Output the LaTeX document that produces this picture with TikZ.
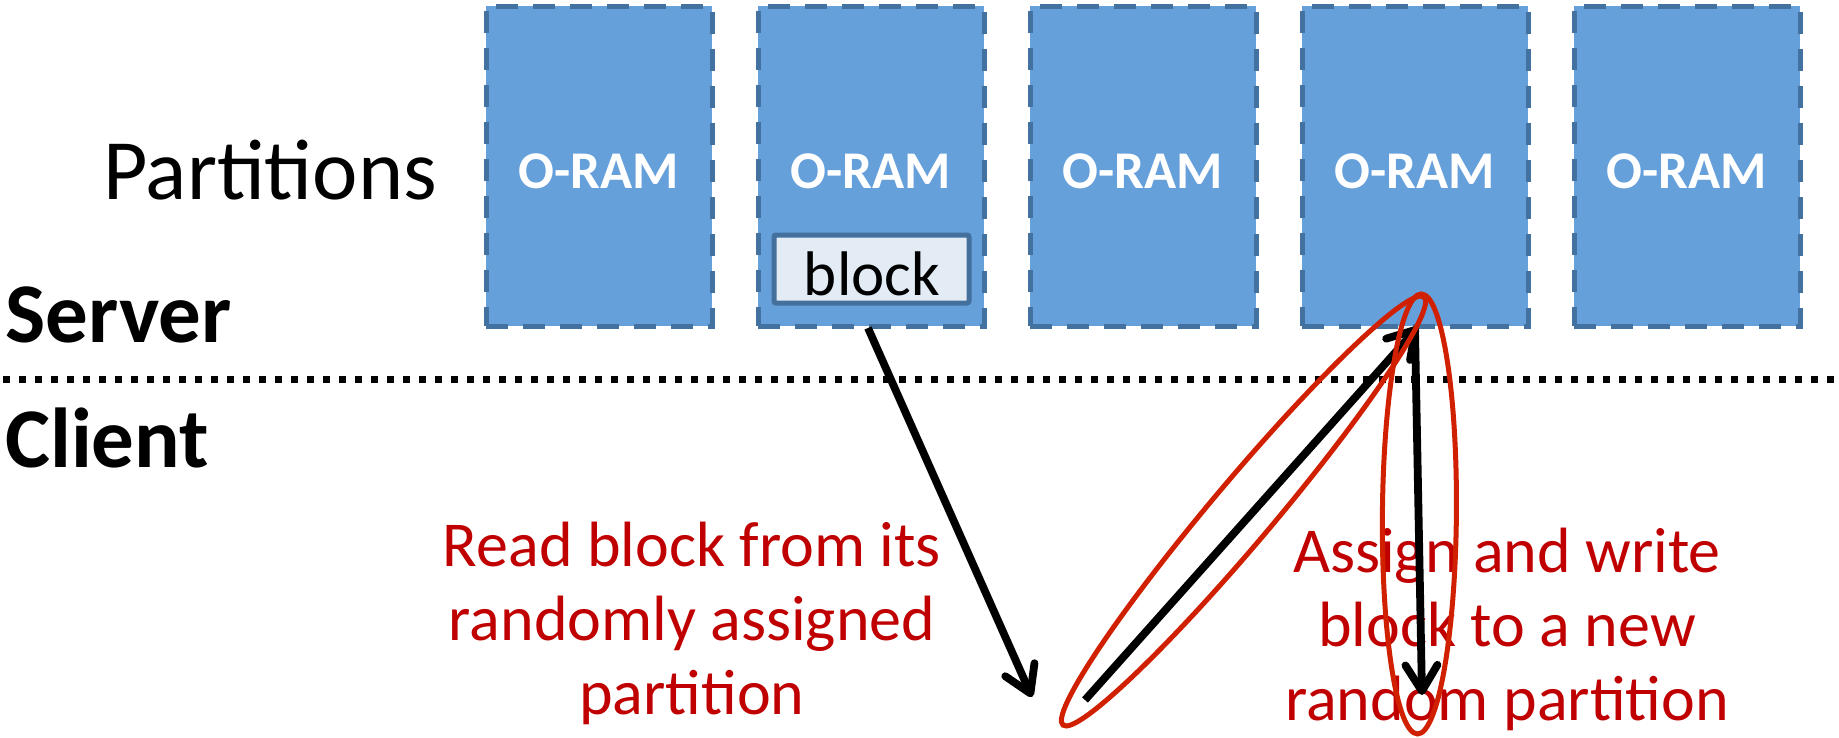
\documentclass[tikz,border=0pt]{standalone}
\usepackage{fontspec}
\setmainfont{Carlito}
\usetikzlibrary{arrows.meta}
\definecolor{oramfill}{RGB}{101,160,219}
\definecolor{oramedge}{RGB}{68,114,160}
\definecolor{blockfill}{RGB}{227,235,245}
\definecolor{blockedge}{RGB}{68,112,158}
\definecolor{notered}{RGB}{192,0,0}
\definecolor{ringred}{RGB}{208,32,0}
\begin{document}
\begin{tikzpicture}[x=1pt,y=-1pt,
  oram/.style={draw=oramedge, fill=oramfill, line width=5pt,
    dash pattern=on 22pt off 15pt, minimum width=226pt, minimum height=320pt,
    inner sep=0pt, outer sep=0pt},
  oramtext/.style={text=white, font=\bfseries\fontsize{53}{60}\selectfont,
    anchor=base, inner sep=0pt},
  blockbox/.style={draw=blockedge, fill=blockfill, line width=5pt,
    rounded corners=2pt, minimum width=195pt, minimum height=68pt, inner sep=0pt},
  blocktext/.style={font=\fontsize{63}{70}\selectfont, anchor=base, inner sep=0pt},
  sidelabel/.style={font=\fontsize{86}{96}\selectfont, anchor=base west, inner sep=0pt},
  rolelabel/.style={font=\bfseries\fontsize{85}{96}\selectfont, anchor=base west, inner sep=0pt},
  note/.style={text=notered, font=\fontsize{64}{75}\selectfont, anchor=base, inner sep=0pt},
  sepline/.style={line width=7.5pt, dash pattern=on 7pt off 9pt},
  flow/.style={line width=7.8pt,
    -{Straight Barb[length=26pt,width=32pt,round]}},
  ring/.style={draw=ringred, line width=5pt}]

\useasboundingbox (0,0) rectangle (1839,737);
\fill[white] (0,0) rectangle (1839,737);

% partitions held by the server
\foreach \i in {1,...,5}{
  \node[oram] (p\i) at ({599+272*(\i-1)},166) {};
  \node[oramtext] (lab\i) at ({599+272*(\i-1)},188) {O-RAM};
}

% the block stored in the second partition
\node[blockbox] (blk) at (871.5,269) {};
\node[blocktext] (blkt) at (872,295) {block};

% side labels
\node[sidelabel] (part) at (103,199) {Partitions};
\node[rolelabel] (srv) at (5,342) {Server};
\node[rolelabel] (cli) at (5,467) {Client};

% server / client boundary
\coordinate (sepL) at (3,379.5);
\coordinate (sepR) at (1839,379.5);
\draw[sepline] (sepL) -- (sepR);

% explanations
\node[note] (r1) at (692,566) {Read block from its};
\node[note] (r2) at (692,640) {randomly assigned};
\node[note] (r3) at (692,714) {partition};
\node[note] (w1) at (1507,572) {Assign and write};
\node[note] (w2) at (1507,646) {block to a new};
\node[note] (w3) at (1507,720) {random partition};

% read and write paths
\coordinate (rdS) at (868,328);
\coordinate (rdE) at (1032,697);
\coordinate (upS) at (1085,700);
\coordinate (upE) at (1418,327);
\coordinate (dnS) at (1415,331);
\coordinate (dnE) at (1422,695);
\draw[flow] (rdS) -- (rdE);
\draw[flow] (upS) -- (upE);
\draw[flow] (dnS) -- (dnE);

% highlighted paths
\coordinate (ring1) at (1243.5,511);
\coordinate (ring2) at (1419.5,514);
\draw[ring, rotate around={49.85:(ring1)}] (ring1) ellipse [x radius=280pt, y radius=31pt];
\draw[ring, rotate around={-0.5:(ring2)}] (ring2) ellipse [x radius=37pt, y radius=220pt];
\end{tikzpicture}
\end{document}
